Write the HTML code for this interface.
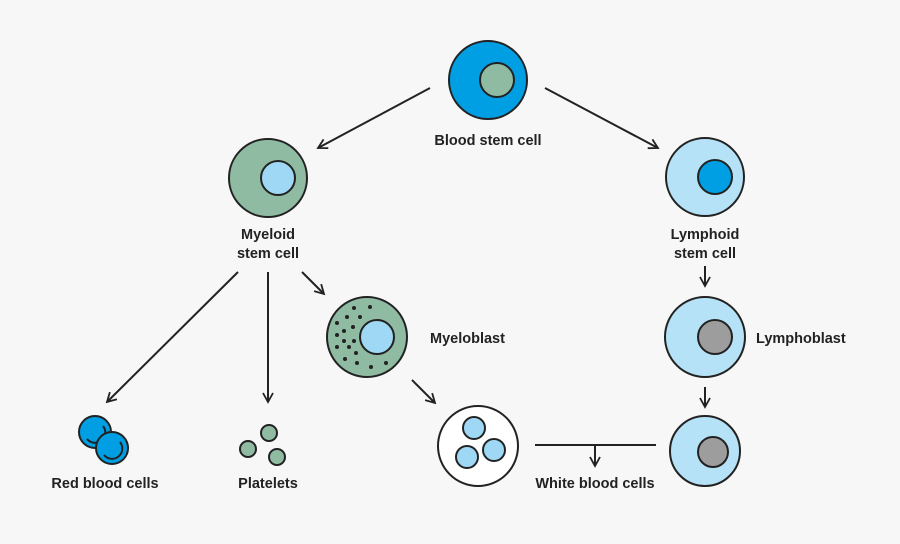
<!DOCTYPE html>
<html><head><style>body{margin:0;background:#f7f7f7}svg{display:block}text{font-family:"Liberation Sans",sans-serif;font-weight:bold;font-size:14.5px;fill:#222}</style></head><body>
<svg width="900" height="544" viewBox="0 0 900 544">
<defs><marker id="a" viewBox="0 0 12 12" refX="10" refY="6" markerWidth="12" markerHeight="12" markerUnits="userSpaceOnUse" orient="auto"><path d="M1 1L10 6L1 11" fill="none" stroke="#222" stroke-width="1.8"/></marker></defs>
<g stroke="#222" stroke-width="2" fill="none">
<line x1="430" y1="88" x2="318" y2="148" marker-end="url(#a)"/>
<line x1="545" y1="88" x2="658" y2="148" marker-end="url(#a)"/>
<line x1="238" y1="272" x2="107" y2="402" marker-end="url(#a)"/>
<line x1="268" y1="272" x2="268" y2="402" marker-end="url(#a)"/>
<line x1="302" y1="272" x2="324" y2="294" marker-end="url(#a)"/>
<line x1="412" y1="380" x2="435" y2="403" marker-end="url(#a)"/>
<line x1="705" y1="266" x2="705" y2="286" marker-end="url(#a)"/>
<line x1="705" y1="387" x2="705" y2="407" marker-end="url(#a)"/>
<line x1="535" y1="445" x2="656" y2="445"/>
<line x1="595" y1="445" x2="595" y2="466" marker-end="url(#a)"/>
</g>
<g stroke="#222" stroke-width="2">
<circle cx="488" cy="80" r="39" fill="#009fe3"/><circle cx="497" cy="80" r="17" fill="#8fbba2"/>
<circle cx="268" cy="178" r="39" fill="#8fbba2"/><circle cx="278" cy="178" r="17" fill="#9ed8f5"/>
<circle cx="705" cy="177" r="39" fill="#b5e2f7"/><circle cx="715" cy="177" r="17" fill="#009fe3"/>
<circle cx="705" cy="337" r="40" fill="#b5e2f7"/><circle cx="715" cy="337" r="17" fill="#9d9d9d"/>
<circle cx="705" cy="451" r="35" fill="#b5e2f7"/><circle cx="713" cy="452" r="15" fill="#9d9d9d"/>
<circle cx="367" cy="337" r="40" fill="#8fbba2"/><circle cx="377" cy="337" r="17" fill="#9ed8f5"/>
<circle cx="478" cy="446" r="40" fill="#fff"/>
<circle cx="474" cy="428" r="11" fill="#9ed8f5"/><circle cx="467" cy="457" r="11" fill="#9ed8f5"/><circle cx="494" cy="450" r="11" fill="#9ed8f5"/>
<circle cx="95" cy="432" r="16" fill="#009fe3"/>
<path d="M87 439 A10 10 0 0 0 103 426" stroke="#222" stroke-width="2" fill="none"/>
<circle cx="112" cy="448" r="16" fill="#009fe3"/>
<path d="M104 455 A10 10 0 0 0 120 442" stroke="#222" stroke-width="2" fill="none"/>
<circle cx="269" cy="433" r="8" fill="#8fbba2"/><circle cx="248" cy="449" r="8" fill="#8fbba2"/><circle cx="277" cy="457" r="8" fill="#8fbba2"/>
</g>
<g fill="#222">
<circle cx="354" cy="308" r="2"/><circle cx="370" cy="307" r="2"/><circle cx="347" cy="317" r="2"/><circle cx="360" cy="317" r="2"/><circle cx="337" cy="323" r="2"/><circle cx="344" cy="331" r="2"/><circle cx="353" cy="327" r="2"/><circle cx="337" cy="335" r="2"/><circle cx="344" cy="341" r="2"/><circle cx="354" cy="341" r="2"/><circle cx="337" cy="347" r="2"/><circle cx="349" cy="347" r="2"/><circle cx="356" cy="353" r="2"/><circle cx="345" cy="359" r="2"/><circle cx="357" cy="363" r="2"/><circle cx="371" cy="367" r="2"/><circle cx="386" cy="363" r="2"/>
</g>
<text x="488" y="145" text-anchor="middle">Blood stem cell</text>
<text x="268" y="239" text-anchor="middle">Myeloid</text>
<text x="268" y="258" text-anchor="middle">stem cell</text>
<text x="705" y="239" text-anchor="middle">Lymphoid</text>
<text x="705" y="258" text-anchor="middle">stem cell</text>
<text x="430" y="343">Myeloblast</text>
<text x="756" y="343">Lymphoblast</text>
<text x="105" y="488" text-anchor="middle">Red blood cells</text>
<text x="268" y="488" text-anchor="middle">Platelets</text>
<text x="595" y="488" text-anchor="middle">White blood cells</text>
</svg>
</body></html>
